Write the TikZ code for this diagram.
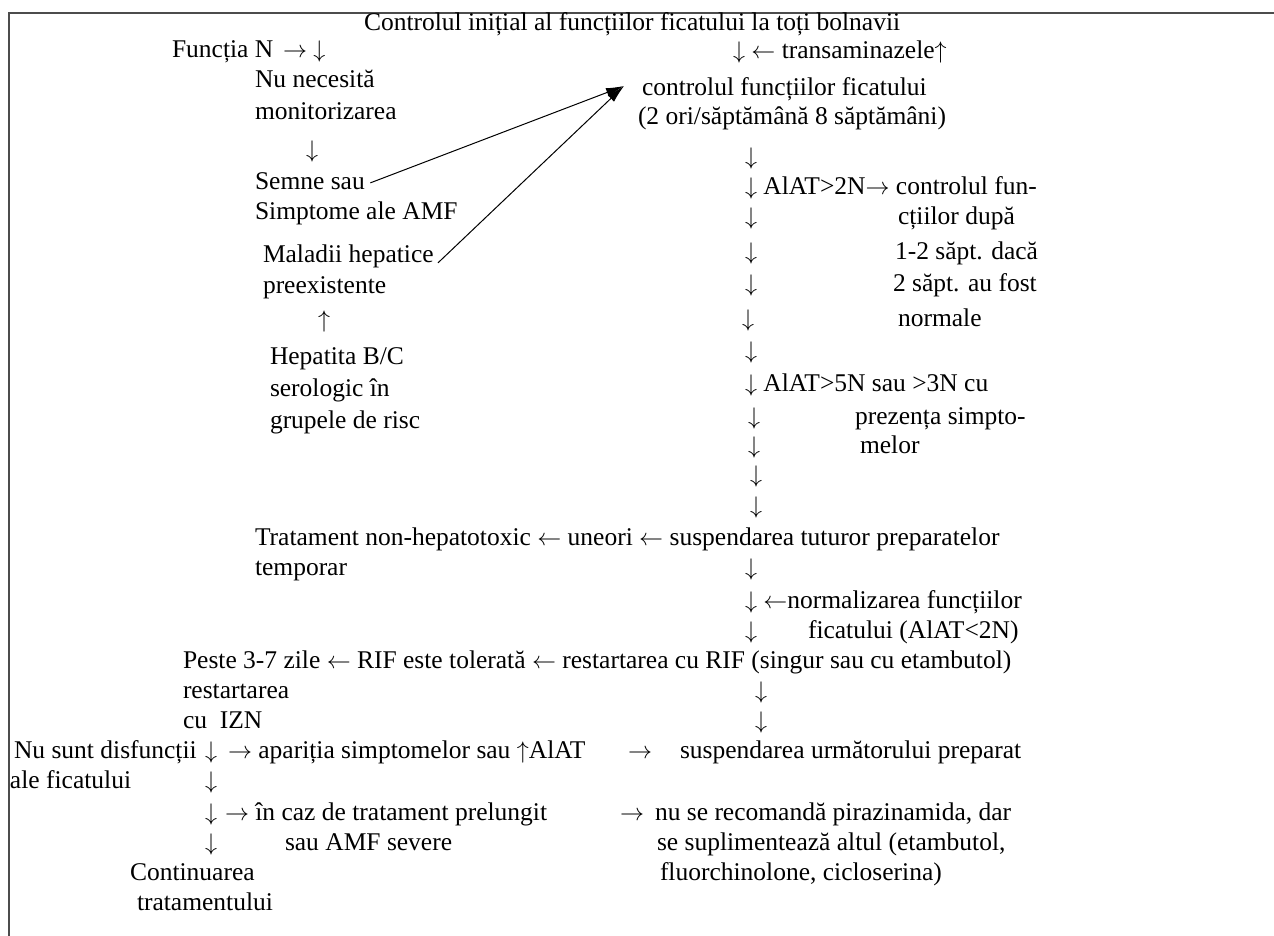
\documentclass[tikz,border=0pt]{standalone}
\usepackage{fontspec}
\setmainfont{Liberation Serif}
\usetikzlibrary{arrows.meta}
\newcommand{\ardown}{\ensuremath{\downarrow}}
\newcommand{\arup}{\ensuremath{\uparrow}}
\newcommand{\arleft}{\ensuremath{\leftarrow}}
\newcommand{\arright}{\ensuremath{\rightarrow}}

\begin{document}
\begin{tikzpicture}[x=0.5pt,y=-0.5pt,every node/.style={anchor=west, inner sep=0pt, outer sep=0pt, yshift=-1.5pt, text height=.7em, text depth=.2em, font=\fontsize{12.75}{15}\selectfont},
  link/.style={-{Latex[length=9pt,width=4.5pt]}, line width=.5pt},
  frame/.style={draw=black!70, line width=1pt}]

\useasboundingbox (0,0) rectangle (1274,936);
\draw[frame] (9,936) -- (9,13) -- (1274,13);

\node (title) at (364,23) {Controlul inițial al funcțiilor ficatului la toți bolnavii};

% left column
\node (funcN)  at (172,50)  {Funcția N};
\node (funcA)  at (283,50)  {\arright{} \ardown};
\node (nuNec)  at (255,80)  {Nu necesită};
\node (monit)  at (255,112) {monitorizarea};
\node (dL1)    at (306,150) {\ardown};
\node (semne)  at (255,182) {Semne sau};
\node (simpt)  at (255,212) {Simptome ale AMF};
\node (malad)  at (263,255) {Maladii hepatice};
\node (preex)  at (263,285) {preexistente};
\node (uL1)    at (318,320) {\arup};
\node (hepBC)  at (270,356) {Hepatita B/C};
\node (serol)  at (270,388) {serologic în};
\node (grupe)  at (270,420) {grupele de risc};

% right column
\node (dR0)    at (733,51)  {\ardown{} \arleft{} transaminazele\arup};
\node (ctrl)   at (642,88)  {controlul funcțiilor ficatului};
\node (ctrlB)  at (638,117) {(2 ori/săptămână 8 săptămâni)};
\node (dR1)    at (745,157) {\ardown};
\node (dR2)    at (745,187) {\ardown{} AlAT>2N\arright{} controlul fun-};
\node (dR3)    at (745,217) {\ardown};
\node (cti)    at (898,217) {cțiilor după};
\node (dR4)    at (745,252) {\ardown};
\node (sapt1)  at (895,252) {1-2 săpt. dacă};
\node (dR5)    at (745,284) {\ardown};
\node (sapt2)  at (893,284) {2 săpt. au fost};
\node (dR6)    at (742,318) {\ardown};
\node (norm)   at (898,318) {normale};
\node (dR7)    at (745,350) {\ardown};
\node (dR8)    at (745,383) {\ardown{} AlAT>5N sau >3N cu};
\node (dR9)    at (748,416) {\ardown};
\node (prez)   at (855,416) {prezența simpto-};
\node (dR10)   at (748,445) {\ardown};
\node (melor)  at (860,445) {melor};
\node (dR11)   at (750,474) {\ardown};
\node (dR12)   at (750,505) {\ardown};

\node (trat)   at (255,537) {Tratament non-hepatotoxic \arleft{} uneori \arleft{} suspendarea tuturor preparatelor};
\node (temp)   at (255,567) {temporar};
\node (dR13)   at (745,567) {\ardown};
\node (dR14)   at (745,600) {\ardown{} \arleft normalizarea funcțiilor};
\node (dR15)   at (745,630) {\ardown};
\node (ficAl)  at (808,630) {ficatului (AlAT<2N)};

\node (peste)  at (183,660) {Peste 3-7 zile \arleft{} RIF este tolerată \arleft{} restartarea cu RIF (singur sau cu etambutol)};
\node (restI)  at (183,690) {restartarea};
\node (dR16)   at (755,690) {\ardown};
\node (cuIZN)  at (183,720) {cu\ \ IZN};
\node (dR17)   at (755,720) {\ardown};

% bottom part
\node (nuSunt) at (14,750)  {Nu sunt disfuncții};
\node (dB1)    at (205,750) {\ardown};
\node (apar)   at (228,750) {\arright{} apariția simptomelor sau \arup AlAT};
\node (aB1)    at (628,750) {\arright};
\node (susp)   at (680,750) {suspendarea următorului preparat};
\node (aleF)   at (10,780)  {ale ficatului};
\node (dB2)    at (205,780) {\ardown};
\node (dB3)    at (205,812) {\ardown};
\node (inCaz)  at (225,812) {\arright{} în caz de tratament prelungit};
\node (aB2)    at (620,812) {\arright};
\node (nuRec)  at (655,812) {nu se recomandă pirazinamida, dar};
\node (dB4)    at (205,842) {\ardown};
\node (sauAMF) at (285,842) {sau AMF severe};
\node (supl)   at (657,842) {se suplimentează altul (etambutol,};
\node (cont)   at (130,872) {Continuarea};
\node (fluor)  at (660,872) {fluorchinolone, cicloserina)};
\node (contB)  at (137,902) {tratamentului};

\coordinate (tip) at (624,83);
\draw[link, shorten <=3pt] (semne.east) -- (tip);
\draw[link, shorten <=3pt] (malad.south east) -- (tip);
\end{tikzpicture}
\end{document}
